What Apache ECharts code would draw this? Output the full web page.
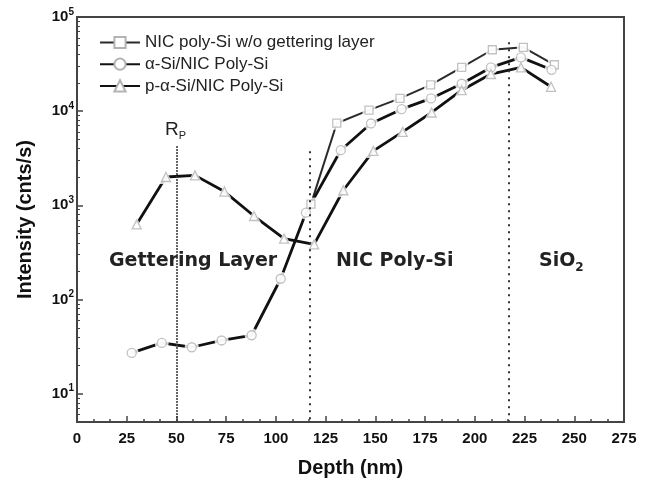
<!DOCTYPE html>
<html>
<head>
<meta charset="utf-8">
<script src="https://cdn.jsdelivr.net/npm/echarts@6/dist/echarts.min.js"></script>
<style>
	html, body { margin: 0; padding: 0; background: #fff; }
	#chart-container { width: 648px; height: 487px; }
</style>
</head>
<body>
<div id="chart-container"></div>
<script>
// values
var depthSq = [117.6, 130.6, 146.8, 162.4, 177.8, 193.4, 208.8, 224.4, 240.0];
var intSq = [1030, 7450, 10250, 13650, 19050, 29150, 44900, 47650, 31100];

var depthCi = [27.5, 42.6, 57.7, 72.7, 87.8, 102.4, 115.1, 132.6, 147.8, 163.2, 178.0, 193.4, 208.1, 223.2, 238.6];
var intCi = [27.1, 34.6, 31.1, 36.7, 41.7, 166, 836, 3850, 7400, 10500, 13650, 19550, 29150, 37250, 27500];

var depthTr = [30.0, 44.7, 59.3, 74.1, 89.0, 104.1, 119.2, 133.9, 149.0, 163.7, 178.3, 193.4, 208.1, 223.2, 238.3];
var intTr = [628, 2000, 2080, 1400, 770, 443, 385, 1445, 3780, 6025, 9680, 16700, 24800, 29150, 18150];

var names = ['NIC poly-Si w/o gettering layer', 'α-Si/NIC Poly-Si', 'p-α-Si/NIC Poly-Si'];
var symbols = ['rect', 'circle', 'triangle'];

// boundary lines: [depth, top intensity]
var boundaries = [[50, 4250], [117, 3750], [217, 54000]];

function pairs(xs, ys) {
	return xs.map((x, i) => [x, ys[i]]);
}

var sets = [pairs(depthSq, intSq), pairs(depthCi, intCi), pairs(depthTr, intTr)];

var dom = document.getElementById('chart-container');
var myChart = echarts.init(dom, null, { renderer: 'canvas' });

var markGray = '#b3b3b3';
var series = [];

sets.forEach((d, i) => {
	var s = {
		name: names[i],
		type: 'line',
		data: d,
		z: 2,
		showSymbol: false,
		symbol: symbols[i],
		symbolSize: 9,
		itemStyle: { color: '#fff', borderColor: markGray, borderWidth: 1.3 },
		lineStyle: { color: i == 0 ? '#2a2a2a' : '#111', width: i == 0 ? 2 : 2.8 },
		emphasis: { disabled: true }
	};
	if (i == 0) {
		s.markLine = {
			silent: true,
			symbol: 'none',
			label: { show: false },
			data: boundaries.map((b, k) => [
				{ coord: [b[0], b[1]], lineStyle: { type: k == 0 ? [1.5, 1.5] : [2, 5], color: '#333', width: 2 } },
				{ coord: [b[0], 5] }
			])
		};
	}
	series.push(s);
	// white halo to leave a gap in the line around each marker
	series.push({
		name: 'halo' + i,
		type: 'scatter',
		data: d,
		z: 3,
		symbol: symbols[i],
		symbolSize: i == 0 ? 13 : 14,
		itemStyle: { color: '#fff' },
		silent: true
	});
	series.push({
		name: 'mark' + i,
		type: 'scatter',
		data: d,
		z: 4,
		symbol: symbols[i],
		symbolSize: i == 0 ? 8 : 9,
		itemStyle: { color: '#fff', borderColor: markGray, borderWidth: 1.3 },
		silent: true
	});
});

var tickFont = { fontFamily: 'Liberation Sans', fontWeight: 'bold', fontSize: 15, color: '#111' };

var option = {
	animation: false,
	backgroundColor: '#fff',
	grid: {
		left: 77,
		right: 24,
		top: 17,
		bottom: 65,
		show: true,
		borderColor: '#444',
		borderWidth: 2,
		outerBoundsMode: 'none'
	},
	legend: {
		data: names,
		orient: 'vertical',
		left: 99,
		top: 34,
		padding: 0,
		itemWidth: 40,
		itemHeight: 14,
		itemGap: 4.7,
		textStyle: { fontFamily: 'Liberation Sans', fontSize: 17, color: '#222' }
	},
	xAxis: {
		type: 'value',
		min: 0,
		max: 275,
		interval: 25,
		name: 'Depth (nm)',
		nameLocation: 'middle',
		nameGap: 36,
		nameTextStyle: { fontFamily: 'Liberation Sans', fontWeight: 'bold', fontSize: 20, color: '#111' },
		axisLine: { lineStyle: { color: '#444', width: 2 } },
		axisTick: { inside: true, length: 6, lineStyle: { color: '#444', width: 1.5 } },
		minorTick: { show: true, splitNumber: 3, length: 3, lineStyle: { color: '#444', width: 1.5 } },
		axisLabel: Object.assign({ margin: 9 }, tickFont),
		splitLine: { show: false }
	},
	yAxis: {
		type: 'log',
		logBase: 10,
		min: 5,
		max: 100000,
		name: 'Intensity (cnts/s)',
		nameLocation: 'middle',
		nameGap: 42,
		nameRotate: 90,
		nameTextStyle: { fontFamily: 'Liberation Sans', fontWeight: 'bold', fontSize: 20, color: '#111' },
		axisLine: { lineStyle: { color: '#444', width: 2 } },
		axisTick: { inside: true, length: 6, lineStyle: { color: '#444', width: 1.5 } },
		minorTick: { show: true, splitNumber: 9, length: 3, lineStyle: { color: '#444', width: 1 } },
		axisLabel: {
			margin: 3,
			formatter: function (v) {
				var e = Math.log10(v);
				if (Math.abs(e - Math.round(e)) > 1e-6) {
					return '';
				}
				return '{b|10}{s|' + Math.round(e) + '}';
			},
			rich: {
				b: { fontFamily: 'Liberation Sans', fontWeight: 'bold', fontSize: 15, color: '#111', lineHeight: 20 },
				s: { fontFamily: 'Liberation Sans', fontWeight: 'bold', fontSize: 10, color: '#111', verticalAlign: 'top', lineHeight: 10 }
			}
		},
		splitLine: { show: false }
	},
	graphic: [
		{
			type: 'text',
			left: 165,
			top: 120,
			style: {
				text: '{r|R}{p|P}',
				rich: {
					r: { fontFamily: 'Liberation Sans', fontSize: 19, fill: '#222', lineHeight: 24 },
					p: { fontFamily: 'Liberation Sans', fontSize: 11, fill: '#222', verticalAlign: 'bottom', lineHeight: 14 }
				}
			}
		},
		{
			type: 'text',
			left: 109,
			top: 252,
			style: { text: 'Gettering Layer', fontFamily: 'DejaVu Sans', fontWeight: 'bold', fontSize: 19, fill: '#222' }
		},
		{
			type: 'text',
			left: 336,
			top: 252,
			style: { text: 'NIC Poly-Si', fontFamily: 'DejaVu Sans', fontWeight: 'bold', fontSize: 19, fill: '#222' }
		},
		{
			type: 'text',
			left: 539,
			top: 252,
			style: {
				text: '{a|SiO}{b|2}',
				rich: {
					a: { fontFamily: 'DejaVu Sans', fontWeight: 'bold', fontSize: 19, fill: '#222', lineHeight: 24 },
					b: { fontFamily: 'DejaVu Sans', fontWeight: 'bold', fontSize: 12, fill: '#222', verticalAlign: 'bottom', lineHeight: 16 }
				}
			}
		}
	],
	series: series
};

myChart.setOption(option);
window.addEventListener('resize', myChart.resize);
</script>
</body>
</html>
